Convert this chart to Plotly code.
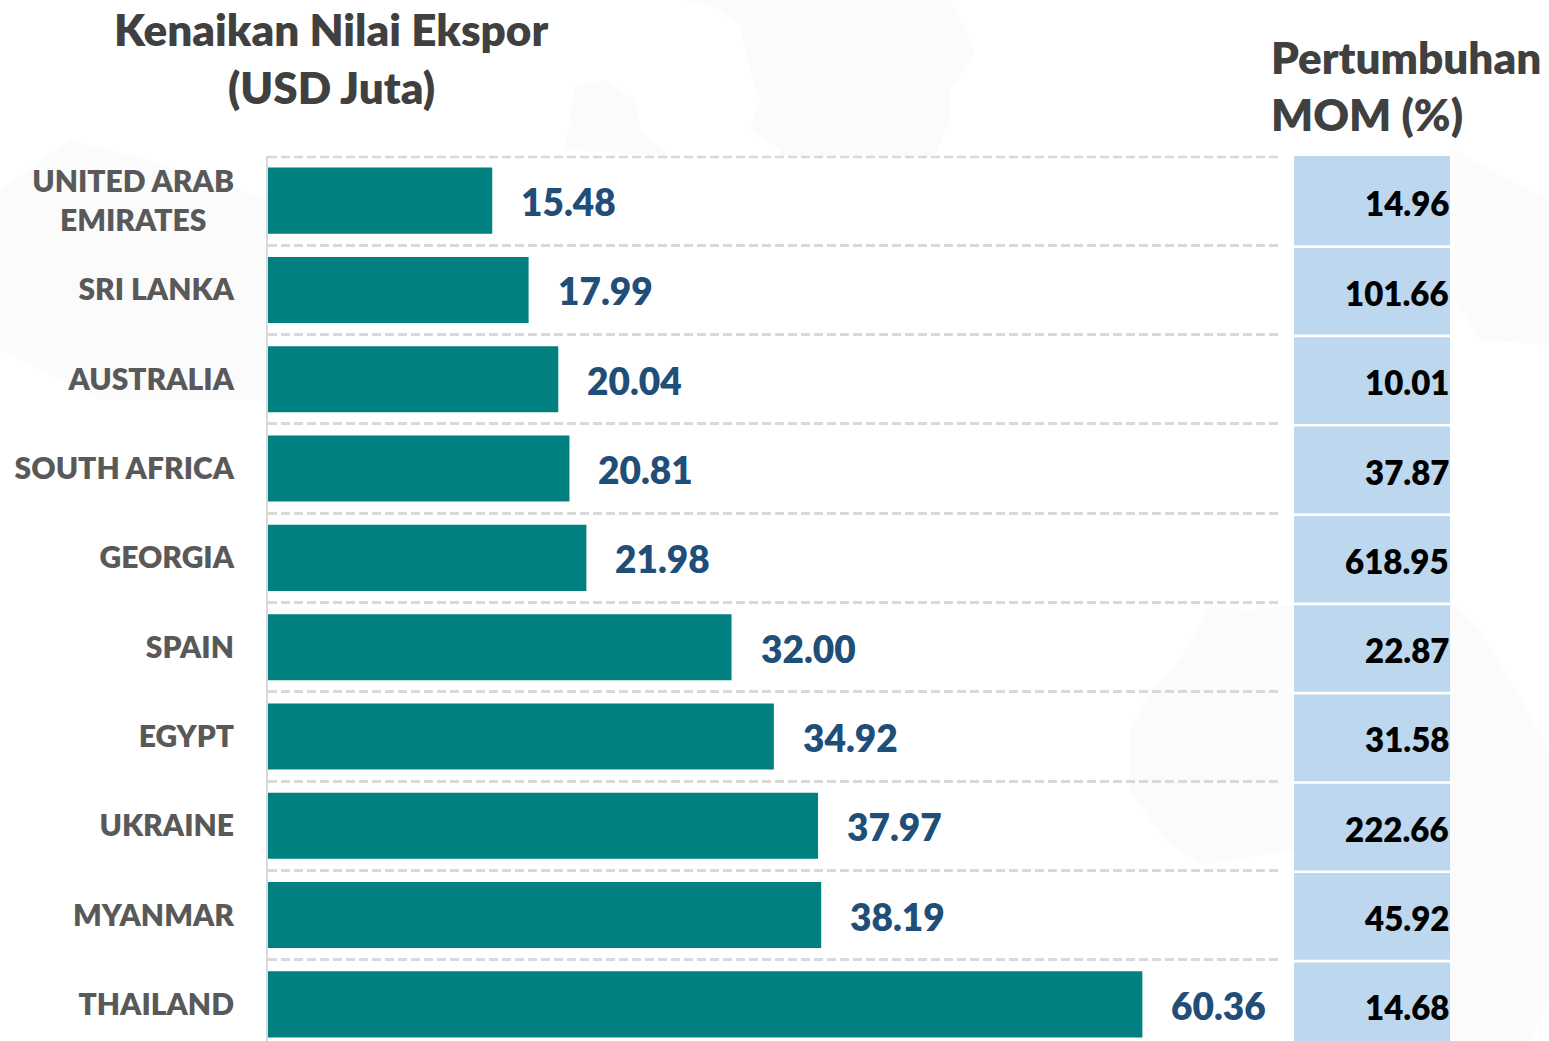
import plotly.graph_objects as go

countries = ["UNITED ARAB<br>EMIRATES\u00a0\u00a0\u00a0\u00a0", "SRI LANKA", "AUSTRALIA", "SOUTH AFRICA", "GEORGIA",
             "SPAIN", "EGYPT", "UKRAINE", "MYANMAR", "THAILAND"]
export_rise = [15.48, 17.99, 20.04, 20.81, 21.98, 32.00, 34.92, 37.97, 38.19, 60.36]
mom_growth = [14.96, 101.66, 10.01, 37.87, 618.95, 22.87, 31.58, 222.66, 45.92, 14.68]

W, H = 1549, 1041
FONT = "Lato"
rows = list(range(len(countries)))

# Very faint world-map watermark behind the chart (page pixels)
watermark = [
    [(1210, 605), (1245, 610), (1293, 605), (1293, 850), (1200, 865), (1165, 840), (1130, 790), (1130, 730), (1150, 690), (1180, 660)],
    [(1450, 600), (1480, 630), (1510, 680), (1549, 750), (1549, 1000), (1530, 1041), (1450, 1041)],
    [(1455, 150), (1490, 170), (1549, 200), (1549, 345), (1480, 340), (1455, 300)],
    [(680, 0), (710, 5), (740, 25), (750, 70), (760, 100), (750, 130), (780, 150), (780, 156), (935, 156), (950, 120), (950, 90), (965, 70), (975, 50), (960, 20), (950, 0)],
    [(565, 150), (575, 85), (605, 80), (635, 100), (640, 130), (670, 156)],
    [(0, 190), (70, 140), (150, 160), (268, 200), (268, 400), (100, 400), (0, 350)],
]


def path_of(points):
    return "M " + " L ".join(f"{x / W:.4f},{1 - y / H:.4f}" for x, y in points) + " Z"


fig = go.Figure(go.Bar(
    x=export_rise, y=rows, orientation="h", width=0.74,
    marker=dict(color="#008080", line=dict(width=0)),
    hoverinfo="skip",
))

annotations = []
shapes = [dict(type="path", xref="paper", yref="paper", layer="below", path=path_of(p),
               fillcolor="#FBFBFB", line=dict(width=0)) for p in watermark]
shapes.append(dict(type="line", xref="paper", yref="paper", x0=268 / W, x1=1282 / W,
                   y0=1 - 157 / H, y1=1 - 157 / H, layer="below",
                   line=dict(color="#D9D9D9", width=2.5, dash="9px,4px")))
for i, (v, m) in enumerate(zip(export_rise, mom_growth)):
    annotations.append(dict(x=v, y=i, xref="x", yref="y", text=f"{v:.2f}", showarrow=False,
                            xanchor="left", xshift=27, yshift=-1,
                            font=dict(family=FONT, size=37, color="#1F4E79", weight=800)))
    annotations.append(dict(x=1451 / W, y=i, xref="paper", yref="y", text=f"{m:.2f}", showarrow=False,
                            xanchor="right", yshift=-2 if i == 0 else -3,
                            font=dict(family=FONT, size=33, color="#000000", weight=800)))
    shapes.append(dict(type="rect", xref="paper", yref="y", layer="below",
                       x0=1294 / W, x1=1450 / W,
                       y0=-0.5 if i == 0 else i - 0.47, y1=i + 0.5,
                       fillcolor="#BDD7EE", line=dict(width=0)))

for text, x, y, anchor in [("Kenaikan Nilai Ekspor", 331, 29, "center"), ("(USD Juta)", 331, 87, "center"),
                           ("Pertumbuhan", 1271, 57, "left"), ("MOM (%)", 1271, 114, "left")]:
    annotations.append(dict(x=x / W, y=1 - y / H, xref="paper", yref="paper", text=text, showarrow=False,
                            xanchor=anchor, yanchor="middle", xshift=-2 if anchor == "left" else 0,
                            font=dict(family=FONT, size=44, color="#404040", weight=800)))

fig.update_layout(
    width=W, height=H, margin=dict(l=0, r=0, t=0, b=0),
    paper_bgcolor="white", plot_bgcolor="rgba(0,0,0,0)", showlegend=False,
    annotations=annotations, shapes=shapes,
    xaxis=dict(domain=[268 / W, 1282 / W], range=[0, 70], visible=False, fixedrange=True),
    yaxis=dict(domain=[0, 1 - 156 / H], range=[9.41, -0.5], tickmode="array", tickvals=rows, ticktext=countries,
               showgrid=False, zeroline=False, showline=True, linecolor="#D9D9D9", linewidth=2,
               ticks="", ticklabelstandoff=26,
               tickfont=dict(family=FONT, size=30, color="#595959", weight=800),
               minor=dict(tickmode="array", tickvals=[i - 0.5 for i in range(11)], showgrid=True,
                          gridcolor="#D9D9D9", gridwidth=2.5, griddash="9px,4px", ticks="")),
)

fig.write_html("out.html", config=dict(displayModeBar=False),
               post_script="document.documentElement.style.margin='0';document.body.style.margin='0';document.body.style.overflow='hidden';")
